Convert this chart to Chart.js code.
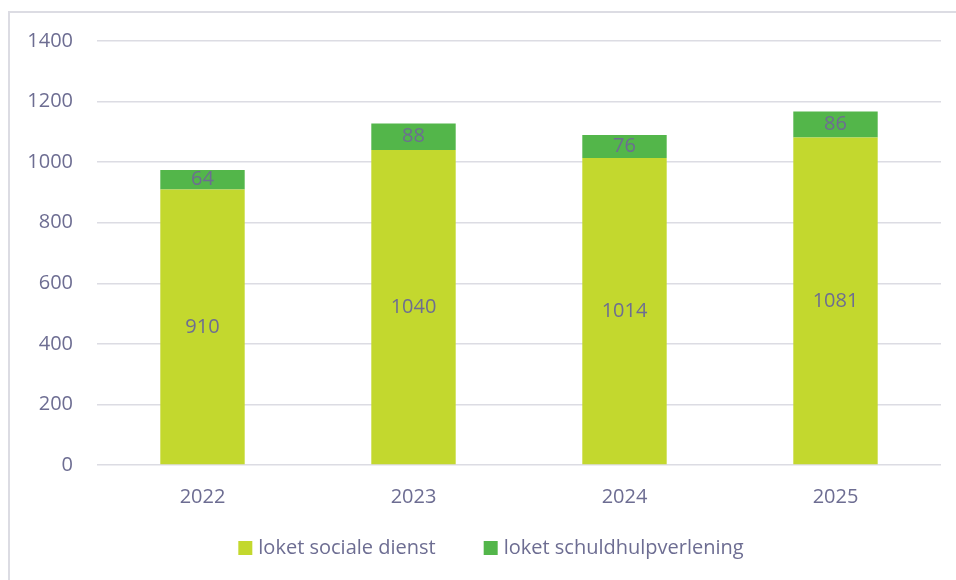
<!DOCTYPE html>
<html>
<head>
<meta charset="utf-8">
<script src="https://cdn.jsdelivr.net/npm/chart.js@4/dist/chart.umd.min.js"></script>
<style>
  html, body { margin: 0; padding: 0; background: #fff; overflow: hidden; }
  #wrap { position: relative; width: 956px; height: 580px; }
  #frame { position: absolute; left: 8px; top: 11px; width: 1000px; height: 600px;
           border-left: 2px solid #dcdce3; border-top: 2px solid #dcdce3; }
  canvas { position: absolute; left: 0; top: 0; }
</style>
</head>
<body>
<div id="wrap">
  <div id="frame"></div>
  <canvas id="myChart" width="956" height="580"></canvas>
</div>
<script>
const years = ['2022', '2023', '2024', '2025'];
const socialeDienst = [910, 1040, 1014, 1081];
const schuldhulp = [64, 88, 76, 86];
const yTicks = [0, 200, 400, 600, 800, 1000, 1200, 1400];

const textColor = '#6d6d92';
const gridColor = '#dcdce3';
const fontFamily = "'Open Sans', sans-serif";
const fontSize = 20;

// draws the value in the middle of every bar segment
const segmentLabels = {
  id: 'segmentLabels',
  afterDatasetsDraw(chart) {
    let ctx = chart.ctx;
    ctx.save();
    ctx.fillStyle = textColor;
    ctx.font = fontSize + 'px ' + fontFamily;
    ctx.textAlign = 'center';
    ctx.textBaseline = 'middle';
    chart.data.datasets.forEach((ds, i) => {
      let meta = chart.getDatasetMeta(i);
      meta.data.forEach((bar, j) => {
        let p = bar.getProps(['x', 'y', 'base'], true);
        ctx.fillText(ds.data[j], p.x, (p.y + p.base) / 2);
      });
    });
    ctx.restore();
  }
};

// legend like the office one: square marker, wide gap between items
const bottomLegend = {
  id: 'bottomLegend',
  afterDraw(chart) {
    let ctx = chart.ctx;
    let sets = chart.data.datasets;
    let box = 14, gapText = 6, gapItem = 48;
    ctx.save();
    ctx.font = fontSize + 'px ' + fontFamily;
    ctx.textBaseline = 'middle';
    let widths = sets.map(ds => box + gapText + ctx.measureText(ds.label).width);
    let total = widths.reduce((a, b) => a + b, 0) + gapItem * (sets.length - 1);
    let x = chart.width / 2 + 13 - total / 2;
    let y = chart.height - 32;
    sets.forEach((ds, i) => {
      ctx.fillStyle = ds.backgroundColor;
      ctx.fillRect(x, y - box / 2, box, box);
      ctx.fillStyle = textColor;
      ctx.fillText(ds.label, x + box + gapText, y);
      x += widths[i] + gapItem;
    });
    ctx.restore();
  }
};

let ctx = document.getElementById('myChart');

new Chart(ctx, {
  type: 'bar',
  data: {
    labels: years,
    datasets: [
      { label: 'loket sociale dienst', data: socialeDienst, backgroundColor: '#c3d82e' },
      { label: 'loket schuldhulpverlening', data: schuldhulp, backgroundColor: '#53b64a' }
    ]
  },
  options: {
    responsive: false,
    animation: false,
    layout: { padding: { top: 41, left: 20, right: 15, bottom: 62 } },
    datasets: { bar: { barPercentage: 1, categoryPercentage: 0.4 } },
    scales: {
      x: {
        stacked: true,
        grid: { display: false },
        border: { display: false },
        ticks: { color: textColor, font: { family: fontFamily, size: fontSize }, padding: 12 },
        afterFit(scale) { scale.height = 53; }
      },
      y: {
        stacked: true,
        min: 0,
        max: 1400,
        afterBuildTicks(scale) { scale.ticks = yTicks.map(v => ({ value: v })); },
        grid: { color: gridColor, lineWidth: 1.5, drawTicks: false },
        border: { display: false },
        ticks: {
          color: textColor,
          font: { family: fontFamily, size: fontSize },
          padding: 24,
          callback: v => String(v)
        },
        afterFit(scale) { scale.width = 77; }
      }
    },
    plugins: {
      legend: { display: false },
      tooltip: { enabled: false }
    }
  },
  plugins: [segmentLabels, bottomLegend]
});
</script>
</body>
</html>
